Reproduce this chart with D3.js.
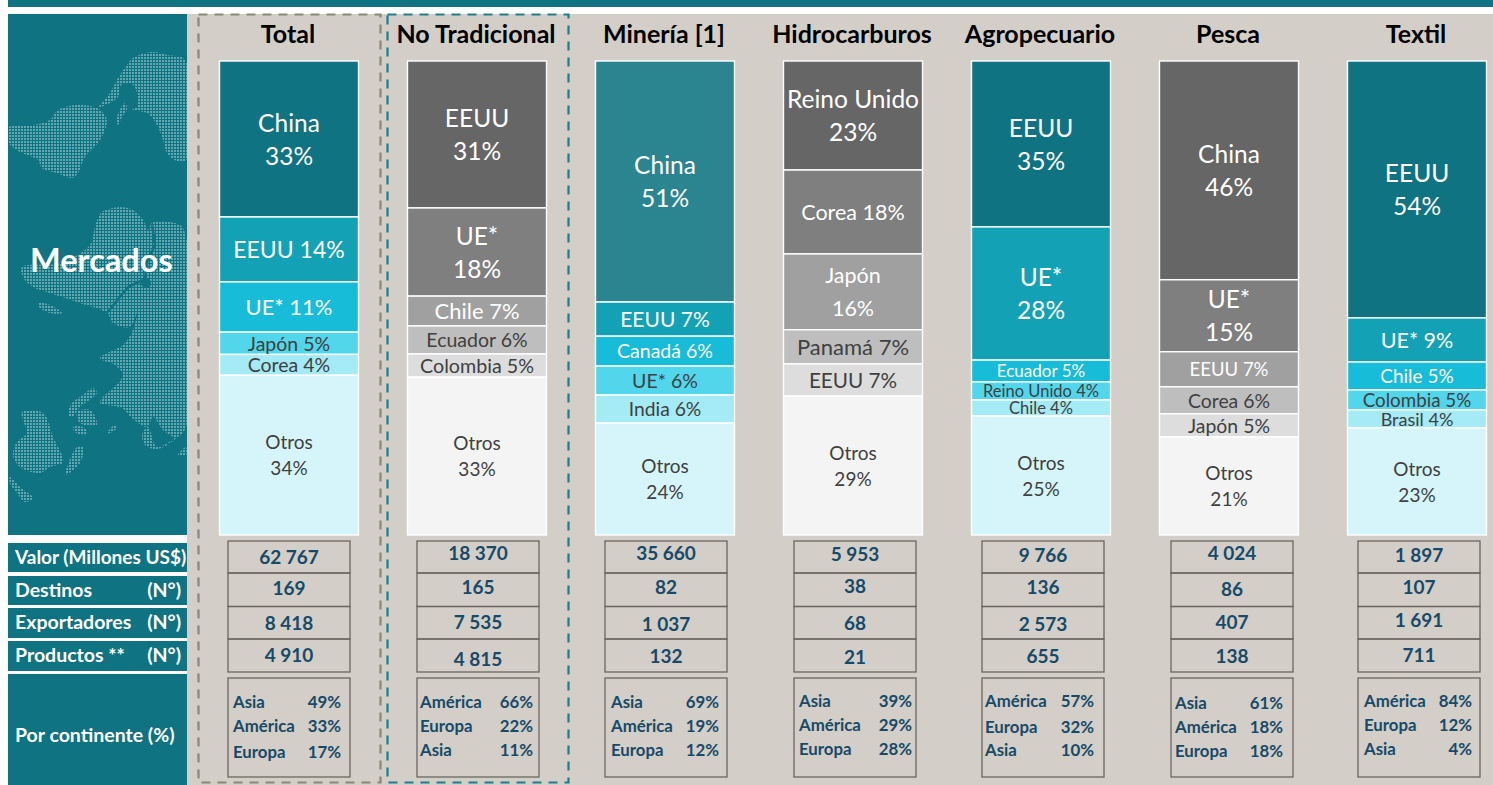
<!DOCTYPE html>
<html><head><meta charset="utf-8">
<script src="https://cdnjs.cloudflare.com/ajax/libs/d3/7.8.5/d3.min.js"></script>
<style>html,body{margin:0;padding:0;background:#fff}svg{display:block;font-family:Lato,sans-serif}</style>
</head><body><svg id="c" width="1493" height="785"></svg>
<script>
const columns = ["Total","No Tradicional","Minería [1]","Hidrocarburos","Agropecuario","Pesca","Textil"];
const labelsTotal = ["China\n33%","EEUU 14%","UE* 11%","Japón 5%","Corea 4%","Otros\n34%"];
const labelsNoTrad = ["EEUU\n31%","UE*\n18%","Chile 7%","Ecuador 6%","Colombia 5%","Otros\n33%"];
const labelsMineria = ["China\n51%","EEUU 7%","Canadá 6%","UE* 6%","India 6%","Otros\n24%"];
const labelsHidro = ["Reino Unido\n23%","Corea 18%","Japón\n16%","Panamá 7%","EEUU 7%","Otros\n29%"];
const labelsAgro = ["EEUU\n35%","UE*\n28%","Ecuador 5%","Reino Unido 4%","Chile 4%","Otros\n25%"];
const labelsPesca = ["China\n46%","UE*\n15%","EEUU 7%","Corea 6%","Japón 5%","Otros\n21%"];
const labelsTextil = ["EEUU\n54%","UE* 9%","Chile 5%","Colombia 5%","Brasil 4%","Otros\n23%"];
const valuesTotal = [32.9,13.7,10.6,4.7,4.4,33.7];
const valuesNoTrad = [31.0,18.6,6.3,5.9,4.9,33.3];
const valuesMineria = [50.8,7.2,6.3,6.1,5.9,23.6];
const valuesHidro = [23.0,17.7,16.0,7.2,6.8,29.3];
const valuesAgro = [35.0,28.1,4.6,3.8,3.4,25.1];
const valuesPesca = [46.2,15.2,7.4,5.7,4.9,20.7];
const valuesTextil = [54.2,9.3,5.9,4.2,3.8,22.6];
const rowNames = ["Valor (Millones US$)","Destinos","Exportadores","Productos **"];
const rowUnits = ["","(N°)","(N°)","(N°)"];
const valorRow = ["62 767","18 370","35 660","5 953","9 766","4 024","1 897"];
const destinosRow = ["169","165","82","38","136","86","107"];
const exportadoresRow = ["8 418","7 535","1 037","68","2 573","407","1 691"];
const productosRow = ["4 910","4 815","132","21","655","138","711"];
const continentNames = [["Asia","América","Europa"],["América","Europa","Asia"],["Asia","América","Europa"],["Asia","América","Europa"],["América","Europa","Asia"],["Asia","América","Europa"],["América","Europa","Asia"]];
const continentShares = [["49%","33%","17%"],["66%","22%","11%"],["69%","19%","12%"],["39%","29%","28%"],["57%","32%","10%"],["61%","18%","18%"],["84%","12%","4%"]];

// layout and style tables
const tealPalette = ["#0F7382","#13A2B5","#17BCD9","#52D6EC","#A4EBF5","#D6F5FA"];
const grayPalette = ["#666666","#7F7F7F","#A0A0A0","#BEBEBE","#DDDDDD","#F4F4F4"];
const miningFirst = "#2B8590";
const labelSizes = [[24.5,23,22,19.5,19.5,19],[24.5,24.5,22,19.5,19.7,19],[24.5,21,19.5,19.5,19.3,19],[24.5,21.5,21.5,22,20.7,19],[24.5,24.5,17,16.5,16.5,19],[24.5,24.5,18.5,19.4,19.4,19],[24.5,21.5,19,18.8,18,19]];
const darkFrom = 3;
const rowCenterY = [[557,553,553,554,555,553,555],[588,587,587,586,587,589,587],[623,622,624,623,624,622,620],[655,659,656,657,656,656,655]];
const contY = [[702,726,752],[702,726,750],[702,726,750],[701,725,749],[701,727,750],[703,727,751],[701,725,749]];
const contX = [[233,341],[420,533],[611,719],[799,912],[985,1094],[1175,1283],[1364,1472]];
const boxX = [228,417,605,794,982,1171,1358];
const rowEdges = [541,573,606.5,639,672];

// decorative map outlines (panel coordinates)
const mapShapes = [
 [[185,60],[167,55],[152,52],[133,58],[127,65],[118,78],[110,93],[99,107],[110,103],[118,97],[121,85],[132,84],[137,93],[137,107],[132,110],[147,113],[157,125],[163,140],[167,153],[177,161],[186,160]],
 [[125,103],[127,110],[122,117],[118,125],[117,117]],
 [[9,127],[33,125],[50,120],[58,110],[77,105],[97,108],[106,117],[106,127],[98,143],[85,157],[78,173],[72,178],[57,173],[42,168],[38,160],[20,152],[9,143]],
 [[95,227],[102,212],[128,208],[142,218],[148,230],[152,223],[180,225],[186,237],[186,427],[177,437],[163,430],[153,417],[147,427],[132,418],[122,408],[100,403],[103,397],[113,388],[123,375],[115,365],[100,358],[123,345],[133,330],[137,313],[130,327],[113,323],[107,313],[80,303],[50,293],[33,287],[23,277],[22,267],[60,263],[90,245]],
 [[38,303],[50,305],[62,313],[50,313],[40,308]],
 [[68,415],[72,403],[83,395],[93,388],[97,393],[80,407],[72,417]],
 [[77,412],[90,410],[97,425],[80,423]],
 [[73,427],[85,428],[87,435],[75,432]],
 [[107,433],[115,425],[117,428],[110,433]],
 [[22,412],[43,413],[53,437],[63,462],[50,467],[40,473],[20,467],[13,455],[17,442],[27,433],[23,420]],
 [[67,467],[77,447],[83,447],[80,463],[65,475]],
 [[10,477],[20,487],[33,498],[25,502],[17,493],[10,483]],
 [[142,435],[148,427],[157,447],[177,437],[167,445],[157,449],[145,445]],
 [[178,455],[186,447],[186,455]]
];
const mapChannels = [[[107,313],[128,287],[143,280]],[[152,224],[155,245],[147,262],[145,280]]];

const svg = d3.select("#c");
const teal = "#0F7382", beige = "#D3CEC7", ink = "#174A68";
const defs = svg.append("defs");
const pat = defs.append("pattern").attr("id","dots").attr("width",3).attr("height",3).attr("patternUnits","userSpaceOnUse");
pat.append("rect").attr("width",2).attr("height",2).attr("fill","#62A8B2");
defs.append("clipPath").attr("id","mapClip").append("rect").attr("x",8).attr("y",14).attr("width",179).attr("height",521);

svg.append("rect").attr("x",8).attr("y",0).attr("width",1485).attr("height",7).attr("fill",teal);
svg.append("rect").attr("x",187).attr("y",14).attr("width",1306).attr("height",771).attr("fill",beige);

// left panel
svg.append("rect").attr("x",8).attr("y",14).attr("width",179).attr("height",521).attr("fill",teal);
const line = d3.line().curve(d3.curveCatmullRomClosed.alpha(0.5));
const mapG = svg.append("g").attr("clip-path","url(#mapClip)");
mapG.selectAll("path.m").data(mapShapes).join("path").attr("class","m").attr("d",line).attr("fill","url(#dots)");
mapG.selectAll("path.c").data(mapChannels).join("path").attr("class","c").attr("d",d3.line()).attr("fill","none").attr("stroke",teal).attr("stroke-width",2.5);
mapG.append("circle").attr("cx",146).attr("cy",283).attr("r",5).attr("fill",teal);
svg.append("text").attr("x",30).attr("y",272).attr("font-size",32.5).attr("font-weight",700).attr("fill","#fff").text("Mercados");

const rowBands = [[543,572],[576,605],[608,638],[641,671]];
rowNames.forEach((n,i)=>{
  const ty = (rowBands[i][0]+rowBands[i][1])/2+6;
  svg.append("rect").attr("x",8).attr("y",rowBands[i][0]).attr("width",179).attr("height",rowBands[i][1]-rowBands[i][0]).attr("fill",teal);
  svg.append("text").attr("x",15).attr("y",ty).attr("font-size",i==0?19:19.5).attr("font-weight",700).attr("fill","#fff").text(n);
  if(rowUnits[i]) svg.append("text").attr("x",181).attr("y",ty).attr("text-anchor","end").attr("font-size",19.5).attr("font-weight",700).attr("fill","#fff").text(rowUnits[i]);
});
svg.append("rect").attr("x",8).attr("y",674).attr("width",179).attr("height",111).attr("fill",teal);
svg.append("text").attr("x",15).attr("y",742).attr("font-size",19.5).attr("font-weight",700).attr("fill","#fff").text("Por continente (%)");

// dashed highlight frames
svg.append("rect").attr("x",198.5).attr("y",14.5).attr("width",182).attr("height",768).attr("fill","none").attr("stroke","#8B8678").attr("stroke-width",2.2).attr("stroke-dasharray","9 7");
svg.append("rect").attr("x",387.5).attr("y",14.5).attr("width",181).attr("height",768).attr("fill","none").attr("stroke","#1C7F8B").attr("stroke-width",2.2).attr("stroke-dasharray","9 7");

// bars
const allValues = [valuesTotal,valuesNoTrad,valuesMineria,valuesHidro,valuesAgro,valuesPesca,valuesTextil];
const allLabels = [labelsTotal,labelsNoTrad,labelsMineria,labelsHidro,labelsAgro,labelsPesca,labelsTextil];
const x = d3.scaleBand().domain(columns).range([219.5,1486.5]).paddingInner(49/188).paddingOuter(0);
columns.forEach((col,ci)=>{
  const vals = allValues[ci], labs = allLabels[ci];
  const y = d3.scaleLinear().domain([0,d3.sum(vals)]).range([61,535]);
  const pal = ci%2==0 ? tealPalette.slice() : grayPalette.slice();
  if(col==="Minería [1]") pal[0]=miningFirst;
  const cum = d3.cumsum(vals);
  const g = svg.append("g");
  const cx = x(col)+x.bandwidth()/2;
  g.append("text").attr("x",cx-1).attr("y",43).attr("text-anchor","middle").attr("font-size",25).attr("font-weight",700).attr("fill","#000").text(col);
  const segs = vals.map((v,i)=>({v,i,y0:y(i?cum[i-1]:0),y1:y(cum[i])}));
  g.selectAll("rect").data(segs).join("rect")
    .attr("x",x(col)).attr("y",d=>d.y0).attr("width",x.bandwidth()).attr("height",d=>d.y1-d.y0)
    .attr("fill",d=>pal[d.i]).attr("stroke","#fff").attr("stroke-width",1.4);
  segs.forEach(d=>{
    const parts = labs[d.i].split("\n"), fs = labelSizes[ci][d.i];
    const lh = fs>=20 ? 33 : 26, mid=(d.y0+d.y1)/2;
    parts.forEach((p,k)=>{
      g.append("text").attr("x",cx).attr("y",mid+(k-(parts.length-1)/2)*lh+fs*0.35+0.5).attr("text-anchor","middle").attr("font-size",fs)
       .attr("fill",d.i>=darkFrom?"#404040":"#fff").text(p);
    });
  });
});

// table
const rows = [valorRow,destinosRow,exportadoresRow,productosRow];
boxX.forEach((bx,ci)=>{
  const g = svg.append("g");
  g.selectAll("rect.r").data(d3.pairs(rowEdges)).join("rect").attr("class","r").attr("x",bx).attr("y",d=>d[0]).attr("width",122).attr("height",d=>d[1]-d[0]).attr("fill","none").attr("stroke","#6B675F").attr("stroke-width",1.3);
  g.append("rect").attr("x",bx).attr("y",678).attr("width",122).attr("height",99).attr("fill","none").attr("stroke","#6B675F").attr("stroke-width",1.3);
  rows.forEach((r,ri)=>{
    g.append("text").attr("x",bx+61).attr("y",rowCenterY[ri][ci]+7).attr("text-anchor","middle").attr("font-size",19).attr("font-weight",700).attr("fill",ink).text(r[ci]);
  });
  continentNames[ci].forEach((n,k)=>{
    g.append("text").attr("x",contX[ci][0]).attr("y",contY[ci][k]+5.5).attr("font-size",16.8).attr("font-weight",700).attr("fill",ink).text(n);
    g.append("text").attr("x",contX[ci][1]).attr("y",contY[ci][k]+5.5).attr("text-anchor","end").attr("font-size",16.8).attr("font-weight",700).attr("fill",ink).text(continentShares[ci][k]);
  });
});
</script></body></html>
